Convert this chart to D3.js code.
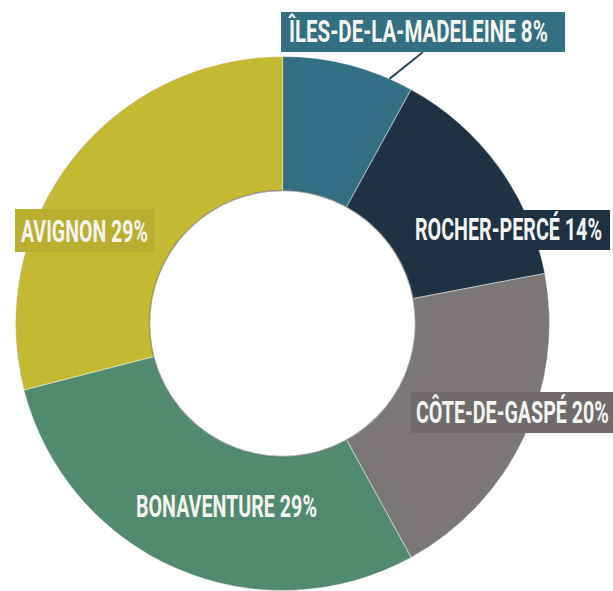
<!DOCTYPE html>
<html>
<head>
<meta charset="utf-8">
<script src="https://cdn.jsdelivr.net/npm/d3@7"></script>
<style>
  html, body { margin: 0; padding: 0; background: #fff; }
  svg { display: block; }
</style>
</head>
<body>
<svg id="chart" width="613" height="591"></svg>
<script>
// ---- data ----
const categories = ["ÎLES-DE-LA-MADELEINE", "ROCHER-PERCÉ", "CÔTE-DE-GASPÉ", "BONAVENTURE", "AVIGNON"];
const values = [8, 14, 20, 29, 29];
const colors = ["#336f82", "#1f3244", "#7b7777", "#518a6f", "#c4b933"];

// ---- layout (not data) ----
const cx = 282.5, cy = 323.5, outerR = 267, innerR = 133;
const labelLayout = [
  { box: [281, 12, 284, 40], fill: "#336f82", tx: 289, tw: 259, ty: 42 },
  { box: [412, 210, 198, 40], fill: "#1e3143", tx: 415, tw: 187, ty: 240 },
  { box: [411, 392, 202, 41], fill: "#6f6b6b", tx: 416, tw: 193, ty: 423 },
  { box: [130, 475, 203, 55], fill: "#50896d", tx: 136, tw: 181, ty: 517 },
  { box: [15, 209, 140, 43], fill: "#b9ae30", tx: 21, tw: 127, ty: 242 }
];

const svg = d3.select("#chart");
const g = svg.append("g").attr("transform", `translate(${cx},${cy})`);

const pie = d3.pie().sort(null).value(d => d.v);
const arcs = pie(categories.map((c, i) => ({ c, v: values[i], i })));
const arc = d3.arc().innerRadius(innerR).outerRadius(outerR);

g.selectAll("path.slice")
  .data(arcs)
  .join("path")
  .attr("class", "slice")
  .attr("d", arc)
  .attr("fill", d => colors[d.data.i])
  .attr("stroke", "rgba(255,255,255,0.35)")
  .attr("stroke-width", 1.2);

g.append("circle")
  .attr("r", innerR)
  .attr("fill", "#fff")
  .attr("stroke", "rgba(60,60,60,0.45)")
  .attr("stroke-width", 1.5);

// leader line for the first label
const a0 = arcs[0];
const la = a0.startAngle + (a0.endAngle - a0.startAngle) * 0.82;
svg.append("line")
  .attr("x1", cx + Math.sin(la) * outerR).attr("y1", cy - Math.cos(la) * outerR)
  .attr("x2", 423).attr("y2", 52)
  .attr("stroke", "#2b4a57")
  .attr("stroke-width", 2);

const labels = svg.selectAll("g.label")
  .data(arcs)
  .join("g")
  .attr("class", "label");

labels.append("rect")
  .attr("x", d => labelLayout[d.data.i].box[0])
  .attr("y", d => labelLayout[d.data.i].box[1])
  .attr("width", d => labelLayout[d.data.i].box[2])
  .attr("height", d => labelLayout[d.data.i].box[3])
  .attr("fill", d => labelLayout[d.data.i].fill);

labels.append("text")
  .attr("font-family", "'Roboto', 'DejaVu Sans Condensed', sans-serif")
  .attr("font-weight", 700)
  .attr("font-size", 31)
  .attr("fill", "#f4f4f0")
  .text(d => `${d.data.c} ${d.data.v}%`)
  .each(function (d) {
    const L = labelLayout[d.data.i];
    const w = this.getComputedTextLength();
    d3.select(this).attr("transform", `translate(${L.tx},${L.ty}) scale(${L.tw / w},1)`);
  });
</script>
</body>
</html>
